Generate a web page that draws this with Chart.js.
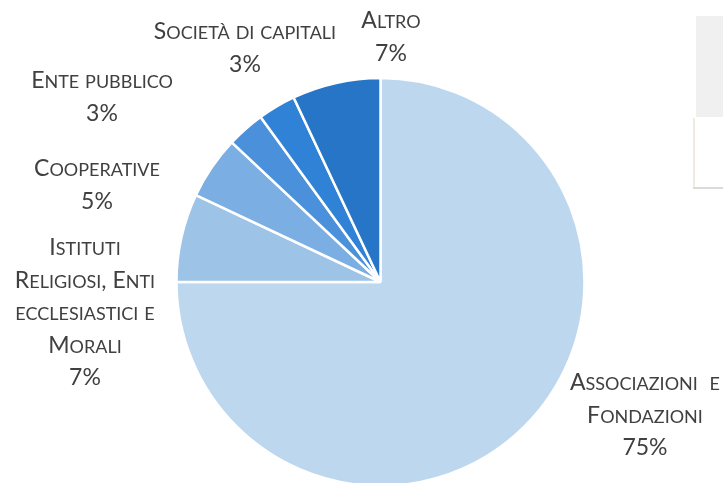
<!DOCTYPE html>
<html>
<head>
<meta charset="utf-8">
<script src="https://cdn.jsdelivr.net/npm/chart.js@4.4.1/dist/chart.umd.min.js"></script>
<style>
    html, body { margin: 0; padding: 0; background: #ffffff; }
    #wrap { width: 723px; height: 483px; position: relative; }
</style>
</head>
<body>
<div id="wrap"><canvas id="tipologiaChart"></canvas></div>
<script>
// Tipologia degli enti (quote percentuali)
var categories = [
    ['Associazioni  e', 'Fondazioni'],
    ['Istituti', 'Religiosi, Enti', 'ecclesiastici e', 'Morali'],
    ['Cooperative'],
    ['Ente pubblico'],
    ['Società di capitali'],
    ['Altro']
];
var percentuali = [75, 7, 5, 3, 3, 7];
var colori = ['#BDD7EE', '#9DC3E7', '#7BAEE2', '#4A90DA', '#2F82D6', '#2775C6'];

// dove mettere le etichette: centro x e baseline della prima riga
var posEtichette = [
    { x: 645, y: 390 },
    { x: 85, y: 255 },
    { x: 97, y: 176 },
    { x: 102, y: 88 },
    { x: 245, y: 39 },
    { x: 391, y: 28 }
];

var FONT = 'Lato';
var BIG = 23;
var SMALL = 18;
var LINE_H = 32.6;

// scrive una riga in maiuscoletto: le maiuscole restano grandi, le minuscole diventano maiuscole piccole
function runs(text) {
    var out = [];
    for (var i = 0; i < text.length; i++) {
        var ch = text[i];
        var small = ch !== ch.toUpperCase();
        var last = out[out.length - 1];
        if (last && last.small === small) last.t += small ? ch.toUpperCase() : ch;
        else out.push({ small: small, t: small ? ch.toUpperCase() : ch });
    }
    return out;
}

function drawSmallCaps(ctx, text, cx, y) {
    var parts = runs(text);
    var w = 0;
    parts.forEach(function (p) {
        ctx.font = (p.small ? SMALL : BIG) + 'px ' + FONT;
        p.w = ctx.measureText(p.t).width;
        w += p.w;
    });
    var x = cx - w / 2;
    parts.forEach(function (p) {
        ctx.font = (p.small ? SMALL : BIG) + 'px ' + FONT;
        ctx.fillText(p.t, x, y);
        x += p.w;
    });
}

var etichette = {
    id: 'etichette',
    afterDraw: function (chart) {
        var ctx = chart.ctx;
        var data = chart.data.datasets[0].data;
        ctx.save();
        ctx.fillStyle = '#404040';
        ctx.textAlign = 'left';
        ctx.textBaseline = 'alphabetic';
        chart.data.labels.forEach(function (lines, i) {
            var p = posEtichette[i];
            var y = p.y;
            lines.forEach(function (l) {
                drawSmallCaps(ctx, l, p.x, y);
                y += LINE_H;
            });
            ctx.font = BIG + 'px ' + FONT;
            var t = data[i] + '%';
            ctx.fillText(t, p.x - ctx.measureText(t).width / 2, y);
        });
        ctx.restore();
    }
};

// riquadri grigi sul bordo destro
var sfondo = {
    id: 'sfondo',
    beforeDraw: function (chart) {
        var ctx = chart.ctx;
        ctx.save();
        ctx.fillStyle = '#F0F0F0';
        ctx.fillRect(696, 16, 27, 101);
        ctx.fillStyle = '#EFEBE0';
        ctx.fillRect(693, 118, 2, 70);
        ctx.fillStyle = '#DADADA';
        ctx.fillRect(693, 187, 30, 2);
        ctx.restore();
    }
};

new Chart(document.getElementById('tipologiaChart').getContext('2d'), {
    type: 'pie',
    data: {
        labels: categories,
        datasets: [{
            data: percentuali,
            backgroundColor: colori,
            borderColor: '#ffffff',
            borderWidth: 2.5
        }]
    },
    options: {
        responsive: true,
        maintainAspectRatio: false,
        animation: false,
        radius: 204,
        layout: {
            padding: { left: 176, right: 138, top: 81, bottom: 0 }
        },
        plugins: {
            legend: { display: false },
            tooltip: { enabled: false }
        }
    },
    plugins: [sfondo, etichette]
});
</script>
</body>
</html>
